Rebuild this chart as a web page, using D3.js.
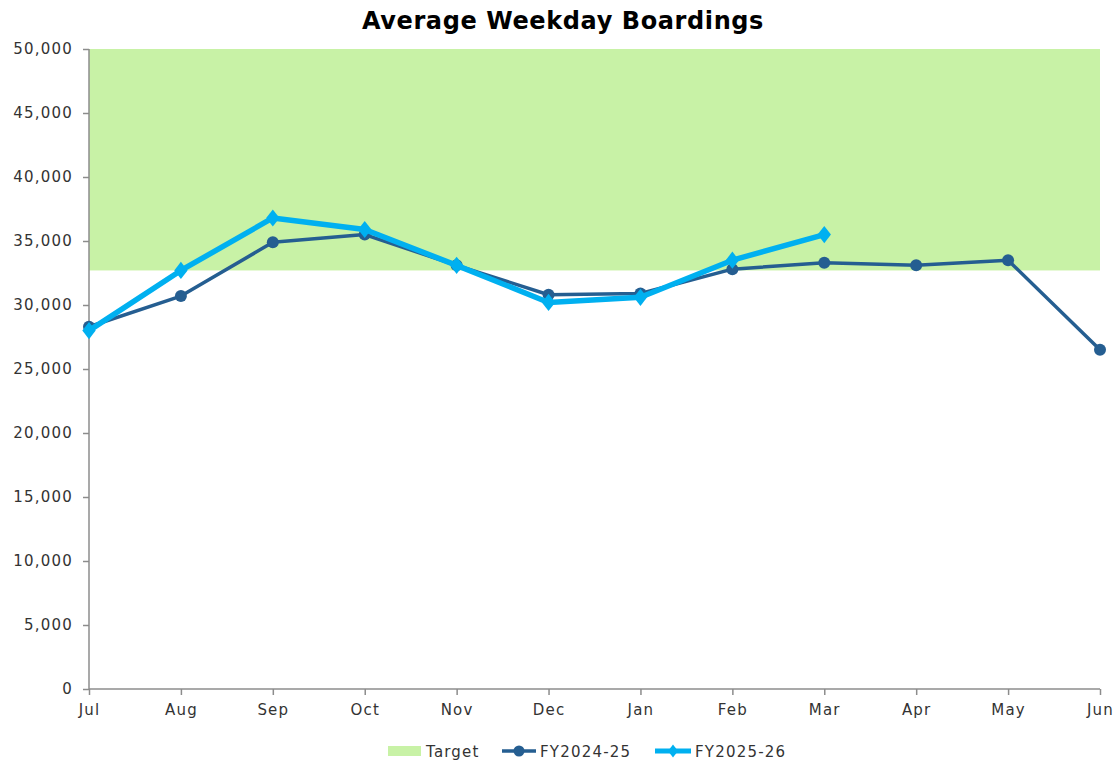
<!DOCTYPE html>
<html><head><meta charset="utf-8">
<script src="https://cdn.jsdelivr.net/npm/d3@7"></script>
<style>body{margin:0;background:#fff;} text{font-family:"DejaVu Sans",sans-serif;}</style>
</head><body>
<svg id="c" width="1118" height="761"></svg>
<script>
const months = ["Jul","Aug","Sep","Oct","Nov","Dec","Jan","Feb","Mar","Apr","May","Jun"];
const fy2425 = [28300,30700,34900,35500,33100,30800,30900,32800,33300,33100,33500,26500];
const fy2526 = [28000,32700,36800,35900,33100,30200,30600,33500,35500];
const targetRange = [32700,50000];
const yTicks = [0,5000,10000,15000,20000,25000,30000,35000,40000,45000,50000];

const svg = d3.select("#c");
const m = {l:89,r:1100,t:49,b:689};
const x = d3.scalePoint().domain(months).range([m.l,m.r]);
const y = d3.scaleLinear().domain([0,50000]).range([m.b,m.t]);

svg.append("rect").attr("x",m.l).attr("width",m.r-m.l)
  .attr("y",y(targetRange[1])).attr("height",y(targetRange[0])-y(targetRange[1]))
  .attr("fill","#c8f2a6");

const ya = svg.append("g").attr("transform",`translate(${m.l},0)`)
  .call(d3.axisLeft(y).tickValues(yTicks).tickFormat(d3.format(",")).tickSize(6).tickPadding(10));
const xa = svg.append("g").attr("transform",`translate(0,${m.b})`)
  .call(d3.axisBottom(x).tickSize(6).tickPadding(9));
[ya,xa].forEach(a=>{
  a.selectAll("path,line").attr("stroke","#8c8c8c").attr("stroke-width",1.5);
  a.selectAll("text").attr("fill","#333").style("font-size","15px")
   .style("font-family","'DejaVu Sans',sans-serif").style("letter-spacing","1.2px");
});
ya.select(".domain").attr("d",`M0,${m.b}V${m.t}`);
ya.selectAll(".tick line").attr("x2",-6);
xa.select(".domain").attr("d",`M${m.l},0H${m.r}`);

const line = d3.line().x((d,i)=>x(months[i])).y(d=>y(d));
svg.append("path").datum(fy2425).attr("d",line).attr("fill","none")
  .attr("stroke","#255e91").attr("stroke-width",3.5).attr("stroke-linejoin","round");
svg.selectAll(".c1").data(fy2425).enter().append("circle")
  .attr("cx",(d,i)=>x(months[i])).attr("cy",d=>y(d)).attr("r",6).attr("fill","#255e91");

svg.append("path").datum(fy2526).attr("d",line).attr("fill","none")
  .attr("stroke","#00b0f0").attr("stroke-width",5.5).attr("stroke-linejoin","round");
const dia = d3.symbol().type(d3.symbolDiamond).size(85);
svg.selectAll(".d1").data(fy2526).enter().append("path")
  .attr("d",dia).attr("transform",(d,i)=>`translate(${x(months[i])},${y(d)}) scale(1.35,1)`)
  .attr("fill","#00b0f0");

svg.append("text").attr("x",563).attr("y",29).attr("text-anchor","middle")
  .style("font-size","24px").style("font-weight","bold").attr("fill","#000")
  .style("letter-spacing","0.6px")
  .text("Average Weekday Boardings");

// legend
const lg = svg.append("g").style("font-size","15px").style("letter-spacing","1.2px");
lg.append("rect").attr("x",388).attr("y",746).attr("width",33).attr("height",10).attr("fill","#c8f2a6");
lg.append("text").attr("x",426).attr("y",757).attr("fill","#333").text("Target");
lg.append("line").attr("x1",502).attr("x2",536).attr("y1",751).attr("y2",751).attr("stroke","#255e91").attr("stroke-width",3.5);
lg.append("circle").attr("cx",519).attr("cy",751).attr("r",5.5).attr("fill","#255e91");
lg.append("text").attr("x",540).attr("y",757).attr("fill","#333").text("FY2024-25");
lg.append("line").attr("x1",655).attr("x2",691).attr("y1",751).attr("y2",751).attr("stroke","#00b0f0").attr("stroke-width",5);
lg.append("path").attr("d",d3.symbol().type(d3.symbolDiamond).size(50)).attr("transform","translate(673,751) scale(1.3,1)").attr("fill","#00b0f0");
lg.append("text").attr("x",695).attr("y",757).attr("fill","#333").text("FY2025-26");
</script>
</body></html>
